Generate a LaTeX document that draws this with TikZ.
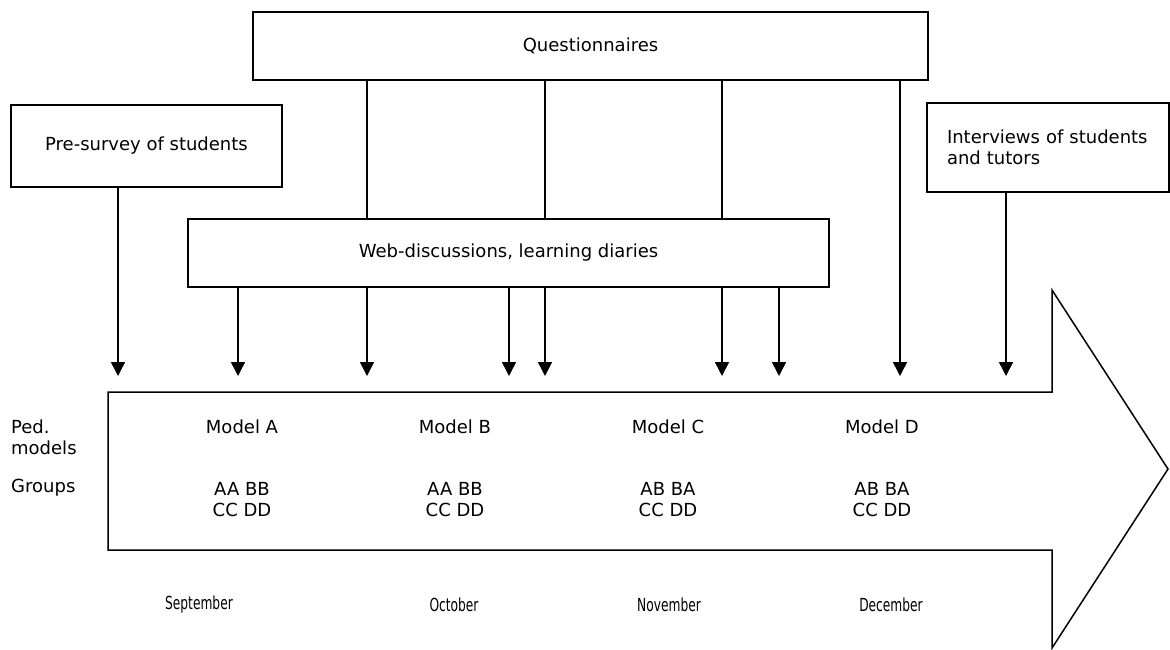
\documentclass[tikz,border=0pt]{standalone}
\usepackage{fontspec}
\setmainfont{DejaVu Sans}
\newfontfamily\monthfont{DejaVu Sans}[FakeStretch=0.68]
\usepackage{tikz}
\usetikzlibrary{arrows.meta,calc}

\begin{document}
\begin{tikzpicture}[
    x=1pt, y=-1pt,
    every node/.style={font=\fontsize{18}{21.5}\selectfont},
    box/.style={
        rectangle,
        draw=black,
        line width=1.5pt,
        align=center
    },
    label/.style={
        inner sep=0pt,
        align=center
    },
    month/.style={
        inner sep=0pt,
        font=\monthfont\fontsize{18}{21.5}\selectfont
    },
    arrow/.style={-{Triangle[width=14pt,length=14pt]}, line width=1.5pt},
    link/.style={line width=1.5pt}
]
\useasboundingbox (0,0) rectangle (1170,649);

% Boxes at fixed coordinates
\node[box, minimum width=675, minimum height=68] (quest) at (590.5, 46)   {Questionnaires};
\node[box, minimum width=271, minimum height=82] (pre)   at (146.5, 146)  {Pre-survey of students};
\node[box, minimum width=641, minimum height=68] (web)   at (508.5, 253)  {Web-discussions, learning diaries};
\node[box, minimum height=89, text width=202, inner xsep=20, align=left]
                                                  (inter) at (1048, 147.5) {Interviews of students\\and tutors};

% Time line arrow
\draw[line width=1.5pt, line join=miter]
    (108,392) -- (1052,392) -- (1052,290) -- (1168,469) -- (1052,648)
    -- (1052,550) -- (108,550) -- cycle;

% Arrow tips above the time line
\foreach \name/\xx in {t1/118, t2/238, t3/367, t4/509, t5/545, t6/722, t7/779, t8/900, t9/1006}
    \coordinate (\name) at (\xx, 376);

% Questionnaires
\draw[link]  (t3 |- quest.south) -- (t3 |- web.north);
\draw[link]  (t5 |- quest.south) -- (t5 |- web.north);
\draw[link]  (t6 |- quest.south) -- (t6 |- web.north);
\draw[arrow] (t8 |- quest.south) -- (t8);

% Pre-survey and interviews
\draw[arrow] (t1 |- pre.south) -- (t1);
\draw[arrow] (t9 |- inter.south) -- (t9);

% Web-discussions
\foreach \name in {t2, t3, t4, t5, t6, t7}
    \draw[arrow] (\name |- web.south) -- (\name);

% Row labels
\node[label, anchor=west, align=left] (ped)    at (11, 437.5) {Ped.\\models};
\node[label, anchor=west]             (groups) at (11, 488)   {Groups};

% Models and groups
\node[label] (modA) at (242, 427) {Model A};
\node[label] (modB) at (455, 427) {Model B};
\node[label] (modC) at (668, 427) {Model C};
\node[label] (modD) at (882, 427) {Model D};

\node[label] (grpA) at (242, 499.5) {AA BB\\CC DD};
\node[label] (grpB) at (455, 499.5) {AA BB\\CC DD};
\node[label] (grpC) at (668, 499.5) {AB BA\\CC DD};
\node[label] (grpD) at (882, 499.5) {AB BA\\CC DD};

% Months
\node[month] (sep) at (199, 605) {September};
\node[month] (oct) at (454, 605) {October};
\node[month] (nov) at (669, 605) {November};
\node[month] (dec) at (891, 605) {December};

\end{tikzpicture}
\end{document}
